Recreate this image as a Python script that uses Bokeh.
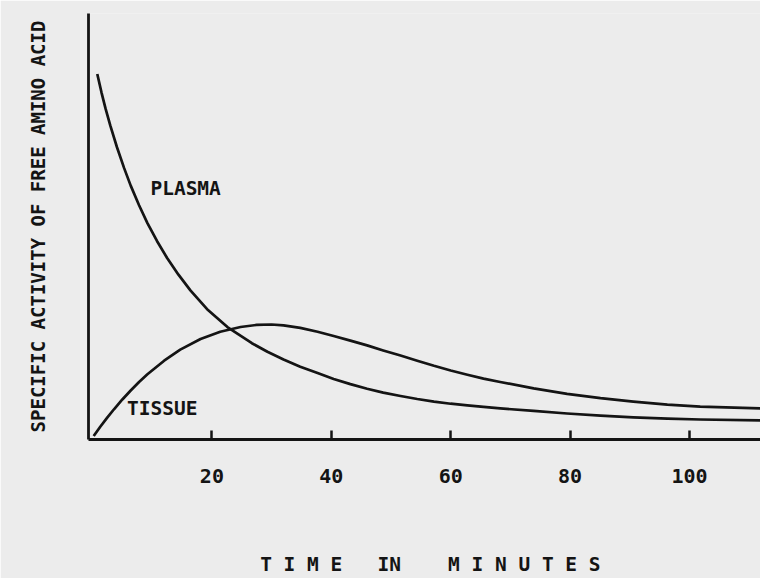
from bokeh.plotting import figure
from bokeh.models import Range1d, FixedTicker, Label
from bokeh.embed import file_html
from bokeh.resources import INLINE

# ---- data (arbitrary activity units) ----
plasma_minutes = [0.8, 1.5, 2.2, 3.0, 4.1, 5.3, 6.4, 7.8, 9.2, 10.8, 12.5, 14.4,
                  16.4, 19.2, 22.6, 26.7, 29.3, 32.0, 34.8, 37.7, 40.4, 43.2,
                  46.0, 48.7, 51.6, 54.4, 57.2, 60.0, 62.8, 65.5, 68.3, 73.9,
                  79.5, 85.1, 90.6, 96.3, 101.8, 112.0]
plasma_activity = [85.8, 81.5, 77.6, 73.6, 68.6, 63.7, 59.6, 55.0, 50.8, 46.6,
                   42.6, 38.7, 35.0, 30.6, 26.4, 22.6, 20.6, 18.8, 17.1, 15.6,
                   14.2, 13.0, 11.9, 11.0, 10.2, 9.5, 8.9, 8.4, 8.0, 7.65, 7.3,
                   6.7, 6.1, 5.6, 5.2, 4.9, 4.7, 4.5]

tissue_minutes = [0.2, 1.3, 2.5, 3.6, 5.0, 6.4, 7.8, 9.2, 12.0, 14.7, 18.1, 21.4,
                  24.8, 27.5, 30.0, 32.0, 34.8, 37.7, 40.4, 43.2, 46.0, 48.7,
                  51.6, 54.4, 57.2, 60.0, 62.8, 65.5, 68.3, 73.9, 79.5, 85.1,
                  90.6, 96.3, 101.8, 112.0]
tissue_activity = [0.8, 3.0, 5.2, 7.1, 9.4, 11.5, 13.5, 15.3, 18.5, 21.1, 23.6,
                   25.3, 26.4, 26.9, 27.0, 26.8, 26.2, 25.3, 24.3, 23.2, 22.1,
                   20.9, 19.7, 18.5, 17.3, 16.2, 15.2, 14.3, 13.5, 12.0, 10.7,
                   9.7, 8.9, 8.2, 7.7, 7.3]

x_ticks = [20, 40, 60, 80, 100]
# leading no-break space nudges the centred title right, as in the original
x_title = "\u00a0T I M E \u00a0 IN \u00a0\u00a0 M I N U T E S"
y_title = "SPECIFIC ACTIVITY OF FREE AMINO ACID"
curve_labels = ["PLASMA", "TISSUE"]
label_minutes = [15.6, 11.7]
label_activity = [58.9, 7.2]

BG = "#ececec"
INK = "#141414"
FONT = "DejaVu Sans Mono"

p = figure(width=760, height=578, output_backend="svg", toolbar_location=None,
           x_range=Range1d(-0.67, 111.9), y_range=Range1d(0, 100),
           min_border_left=88, min_border_right=0, min_border_top=13,
           min_border_bottom=139)
p.background_fill_color = BG
p.border_fill_color = BG
p.outline_line_color = None
p.grid.visible = False

p.line(plasma_minutes, plasma_activity, line_color=INK, line_width=2.7,
       line_join="round")
p.line(tissue_minutes, tissue_activity, line_color=INK, line_width=2.7,
       line_join="round")

for txt, xm, ya in zip(curve_labels, label_minutes, label_activity):
    p.add_layout(Label(x=xm, y=ya, text=txt, text_align="center",
                       text_baseline="middle", text_font=FONT,
                       text_font_size="19.5px", text_font_style="bold",
                       text_color=INK))

xa = p.xaxis[0]
xa.ticker = FixedTicker(ticks=x_ticks)
xa.axis_line_color = INK
xa.axis_line_width = 2.8
xa.major_tick_in = 9
xa.major_tick_out = 0
xa.major_tick_line_width = 2.5
xa.major_tick_line_color = INK
xa.minor_tick_line_color = None
xa.major_label_standoff = 29
xa.major_label_text_font = FONT
xa.major_label_text_font_size = "20px"
xa.major_label_text_font_style = "bold"
xa.major_label_text_color = INK
xa.axis_label = x_title
xa.axis_label_standoff = 67
xa.axis_label_text_font = FONT
xa.axis_label_text_font_size = "19.5px"
xa.axis_label_text_font_style = "bold"
xa.axis_label_text_color = INK

ya_ = p.yaxis[0]
ya_.ticker = FixedTicker(ticks=[])
ya_.axis_line_color = INK
ya_.axis_line_width = 2.8
ya_.major_tick_line_color = None
ya_.minor_tick_line_color = None
ya_.major_label_text_font_size = "0px"
ya_.axis_label = y_title
ya_.axis_label_standoff = 40
ya_.axis_label_text_font = FONT
ya_.axis_label_text_font_size = "19px"
ya_.axis_label_text_font_style = "bold"
ya_.axis_label_text_color = INK

open("out.html", "w").write(file_html(p, INLINE))
